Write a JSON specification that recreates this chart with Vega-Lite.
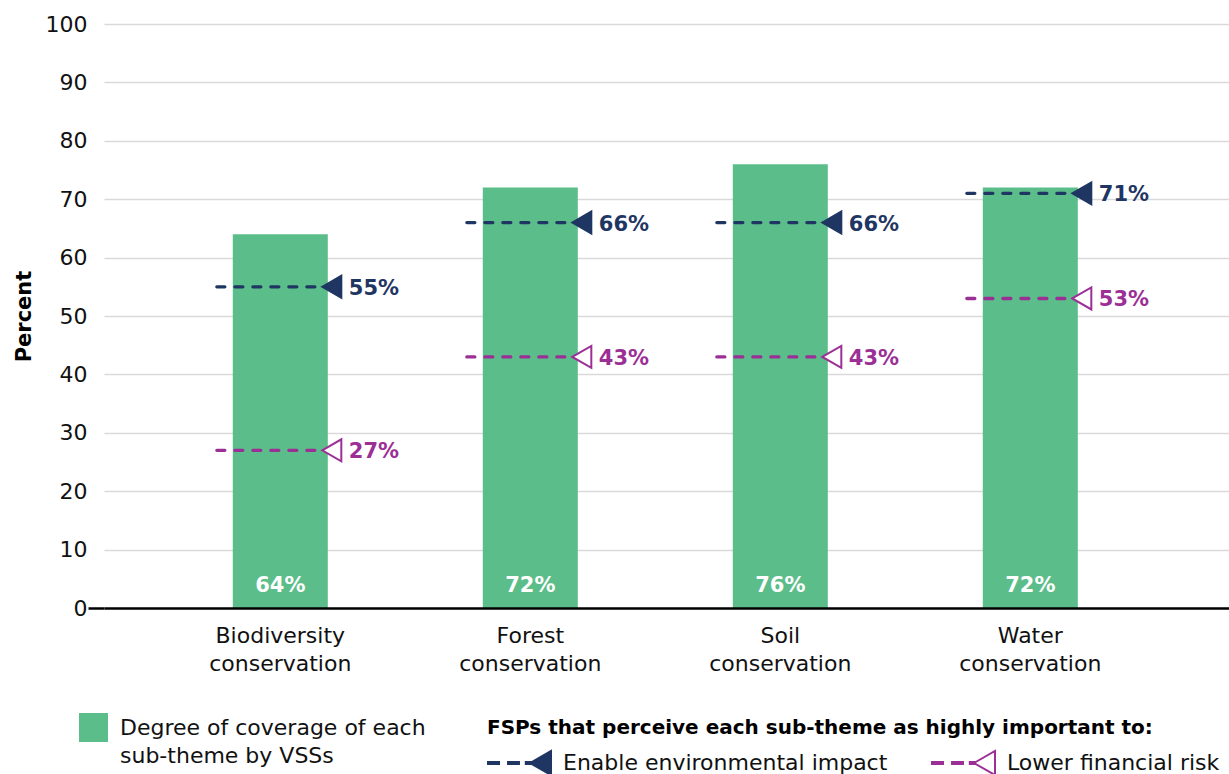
{
  "$schema": "https://vega.github.io/schema/vega-lite/v6.json",
  "width": 1125,
  "height": 584,
  "autosize": {"type": "none"},
  "padding": {"left": 104, "top": 24, "right": 0, "bottom": 166},
  "background": "white",
  "config": {
    "font": "DejaVu Sans",
    "view": {"stroke": null},
    "legend": {"padding": 0},
    "style": {"guide-label": {"lineHeight": 28}}
  },
  "datasets": {
    "coverage": [
      {"subtheme": "Biodiversity conservation", "coverage": 64},
      {"subtheme": "Forest conservation", "coverage": 72},
      {"subtheme": "Soil conservation", "coverage": 76},
      {"subtheme": "Water conservation", "coverage": 72}
    ],
    "fsp": [
      {"subtheme": "Biodiversity conservation", "series": "Enable environmental impact", "percent": 55},
      {"subtheme": "Forest conservation", "series": "Enable environmental impact", "percent": 66},
      {"subtheme": "Soil conservation", "series": "Enable environmental impact", "percent": 66},
      {"subtheme": "Water conservation", "series": "Enable environmental impact", "percent": 71},
      {"subtheme": "Biodiversity conservation", "series": "Lower financial risk", "percent": 27},
      {"subtheme": "Forest conservation", "series": "Lower financial risk", "percent": 43},
      {"subtheme": "Soil conservation", "series": "Lower financial risk", "percent": 43},
      {"subtheme": "Water conservation", "series": "Lower financial risk", "percent": 53}
    ]
  },
  "encoding": {
    "x": {
      "field": "subtheme",
      "type": "nominal",
      "sort": null,
      "scale": {"paddingInner": 0.62, "paddingOuter": 0.56, "align": 0.46},
      "axis": {
        "title": null,
        "domain": true,
        "domainColor": "#000000",
        "domainWidth": 2.5,
        "ticks": false,
        "labelAngle": 0,
        "labelFontSize": 22,
        "labelColor": "#111111",
        "labelPadding": 17,
        "labelBaseline": "top",
        "labelLineHeight": 28,
        "labelExpr": "split(datum.label, ' ')",
        "zindex": 1
      }
    }
  },
  "layer": [
    {
      "data": {"name": "coverage"},
      "mark": {"type": "bar"},
      "encoding": {
        "y": {
          "field": "coverage",
          "type": "quantitative",
          "scale": {"domain": [0, 100], "nice": false},
          "axis": {
            "title": "Percent",
            "values": [0, 10, 20, 30, 40, 50, 60, 70, 80, 90, 100],
            "domain": false,
            "grid": true,
            "gridColor": "#d9d9d9",
            "gridWidth": 1.5,
            "ticks": true,
            "tickSize": 16,
            "tickWidth": 2.5,
            "tickColor": {"condition": {"test": "datum.value === 0", "value": "#000000"}, "value": "transparent"},
            "labelPadding": 1,
            "labelFontSize": 22,
            "labelColor": "#111111",
            "titleFontSize": 21,
            "titleFontWeight": "bold",
            "titleColor": "#000000",
            "titleAngle": -90,
            "titleX": -80,
            "titleY": 292,
            "titleAlign": "center",
            "titleBaseline": "middle"
          }
        },
        "color": {
          "datum": "Degree of coverage of each sub-theme by VSSs",
          "scale": {"range": ["#5bbd89"]},
          "legend": {
            "orient": "none",
            "legendX": -25,
            "legendY": 689,
            "title": null,
            "symbolType": "square",
            "symbolSize": 841,
            "symbolStrokeWidth": 0,
            "labelFontSize": 22,
            "labelColor": "#111111",
            "labelOffset": 12,
            "labelLimit": 500,
            "labelBaseline": "middle",
            "labelExpr": "['Degree of coverage of each', 'sub-theme by VSSs']"
          }
        }
      }
    },
    {
      "data": {"name": "coverage"},
      "transform": [{"calculate": "datum.coverage + '%'", "as": "label"}],
      "mark": {"type": "text", "color": "#ffffff", "fontWeight": "bold", "fontSize": 21, "baseline": "alphabetic", "dy": -16},
      "encoding": {
        "y": {"datum": 0, "type": "quantitative"},
        "text": {"field": "label"}
      }
    },
    {
      "data": {"name": "fsp"},
      "mark": {"type": "rule", "strokeWidth": 3.3, "strokeDash": [8, 10], "strokeCap": "round"},
      "encoding": {
        "x": {"field": "subtheme", "type": "nominal", "sort": null, "bandPosition": -0.168},
        "x2": {"field": "subtheme", "bandPosition": 0.937},
        "y": {"field": "percent", "type": "quantitative"},
        "stroke": {"condition": {"test": "datum.series === 'Enable environmental impact'", "value": "#1f3663"}, "value": "#9b2f96"}
      }
    },
    {
      "data": {"name": "fsp"},
      "mark": {"type": "point", "shape": "triangle-left", "size": 484, "filled": true, "strokeWidth": 2, "opacity": 1},
      "encoding": {
        "x": {"field": "subtheme", "type": "nominal", "sort": null, "bandPosition": 1.042},
        "y": {"field": "percent", "type": "quantitative"},
        "fill": {
          "field": "series",
          "type": "nominal",
          "scale": {"domain": ["Enable environmental impact", "Lower financial risk"], "range": ["#1f3663", "#ffffff"]},
          "legend": {
            "orient": "none",
            "legendX": 383,
            "legendY": 694,
            "direction": "horizontal",
            "title": "FSPs that perceive each sub-theme as highly important to:",
            "titleFontSize": 20,
            "titleFontWeight": "bold",
            "titleColor": "#000000",
            "titlePadding": 12,
            "titleLimit": 900,
            "labelFontSize": 22,
            "labelColor": "#111111",
            "labelLimit": 500,
            "labelOffset": 50,
            "columnPadding": 40,
            "symbolType": "M-1,-0.09L-0.08,-0.09L-0.08,0.09L-1,0.09Z M0.67,-0.09L1.58,-0.09L1.58,0.09L0.67,0.09Z M2.15,-0.09L2.6,-0.09L2.6,0.09L2.15,0.09Z M2.5,0L4.25,-1L4.25,1Z",
            "symbolSize": 576,
            "symbolStrokeWidth": 2,
            "symbolOpacity": 1
          }
        },
        "stroke": {
          "field": "series",
          "type": "nominal",
          "scale": {"domain": ["Enable environmental impact", "Lower financial risk"], "range": ["#1f3663", "#9b2f96"]},
          "legend": {
            "orient": "none",
            "legendX": 383,
            "legendY": 694,
            "direction": "horizontal",
            "title": "FSPs that perceive each sub-theme as highly important to:",
            "titleFontSize": 20,
            "titleFontWeight": "bold",
            "titleColor": "#000000",
            "titlePadding": 12,
            "titleLimit": 900,
            "labelFontSize": 22,
            "labelColor": "#111111",
            "labelLimit": 500,
            "labelOffset": 50,
            "columnPadding": 40,
            "symbolType": "M-1,-0.09L-0.08,-0.09L-0.08,0.09L-1,0.09Z M0.67,-0.09L1.58,-0.09L1.58,0.09L0.67,0.09Z M2.15,-0.09L2.6,-0.09L2.6,0.09L2.15,0.09Z M2.5,0L4.25,-1L4.25,1Z",
            "symbolSize": 576,
            "symbolStrokeWidth": 2,
            "symbolOpacity": 1
          }
        }
      }
    },
    {
      "data": {"name": "fsp"},
      "transform": [{"calculate": "datum.percent + '%'", "as": "label"}],
      "mark": {"type": "text", "fontWeight": "bold", "fontSize": 21, "align": "left", "baseline": "middle", "dx": 21, "dy": 2},
      "encoding": {
        "x": {"field": "subtheme", "type": "nominal", "sort": null, "bandPosition": 1},
        "y": {"field": "percent", "type": "quantitative"},
        "text": {"field": "label"},
        "color": {"condition": {"test": "datum.series === 'Enable environmental impact'", "value": "#1f3663"}, "value": "#9b2f96"}
      }
    }
  ]
}
